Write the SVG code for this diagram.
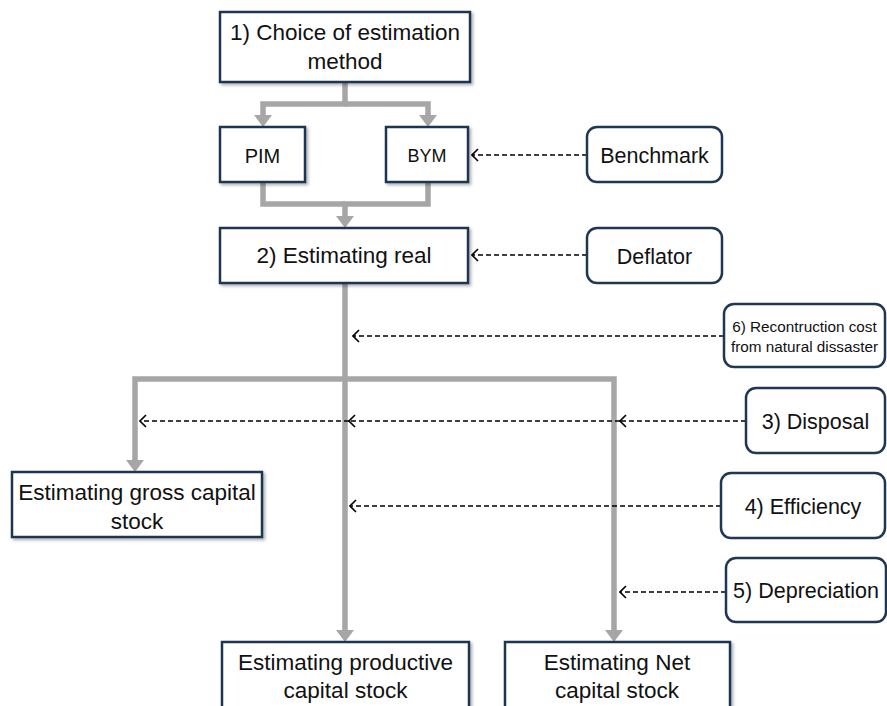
<svg xmlns="http://www.w3.org/2000/svg" width="887" height="706" viewBox="0 0 887 706">
<style>
.box{fill:#fff;stroke:#1f3654;stroke-width:2.5;filter:url(#sh)}
.rbox{fill:#fff;stroke:#1f3654;stroke-width:2.5}
.t{font-family:"Liberation Sans",Arial,sans-serif;font-size:22.5px;fill:#111;text-anchor:middle}
.tr{font-size:21.5px}
.ts{font-size:15.3px}
.g{fill:none;stroke:#a6a6a6;stroke-width:5.5;stroke-linejoin:miter;marker-end:url(#ga)}
.gn{fill:none;stroke:#a6a6a6;stroke-width:5.5;stroke-linejoin:miter}
.d{fill:none;stroke:#000;stroke-width:1.6;stroke-dasharray:5 3;marker-end:url(#da)}
</style>
<defs>
<filter id="sh" x="-10%" y="-10%" width="125%" height="140%">
<feDropShadow dx="2" dy="2" stdDeviation="1.5" flood-color="#000" flood-opacity="0.3"/>
</filter>
<marker id="ga" markerUnits="userSpaceOnUse" viewBox="0 0 12 18" markerWidth="12" markerHeight="18" refX="0" refY="9" orient="auto">
<path d="M0,0 L12,9 L0,18 Z" fill="#a6a6a6"/>
</marker>
<marker id="da" markerUnits="userSpaceOnUse" viewBox="0 0 8 14" markerWidth="8" markerHeight="14" refX="7" refY="7" orient="auto">
<path d="M1,1 L7,7 L1,13" fill="none" stroke="#000" stroke-width="1.6"/>
</marker>
</defs>

<g id="connectors">
<path class="g" d="M345,82 V104 H263 V115"/>
<path class="g" d="M345,104 H428 V115"/>
<path class="gn" d="M263,182 V204 H345"/>
<path class="g" d="M428,182 V204 H345 V216"/>
<path class="g" d="M345,283 V630"/>
<path class="g" d="M345,379 H135 V460"/>
<path class="g" d="M345,379 H614 V630"/>
<path class="d" d="M587,155 H472"/>
<path class="d" d="M587,255 H472"/>
<path class="d" d="M724,336 H353"/>
<path class="d" d="M746,421 H620"/>
<path class="d" d="M620,421 H349"/>
<path class="d" d="M349,421 H140"/>
<path class="d" d="M721,506 H350"/>
<path class="d" d="M726,592 H620"/>
</g>

<g id="choice">
<rect class="box" x="220" y="12" width="250" height="70"/>
<text class="t" x="345" y="40">1) Choice of estimation</text>
<text class="t" x="345" y="69">method</text>
</g>
<g id="pim">
<rect class="box" x="220" y="127" width="85" height="55"/>
<text class="t" x="262.5" y="163" style="font-size:20px">PIM</text>
</g>
<g id="bym">
<rect class="box" x="386" y="127" width="82" height="55"/>
<text class="t" x="427" y="162" style="font-size:18px">BYM</text>
</g>
<g id="real">
<rect class="box" x="220" y="228" width="248" height="55"/>
<text class="t" x="344" y="263">2) Estimating real</text>
</g>
<g id="benchmark">
<rect class="rbox" x="587" y="127" width="135" height="55" rx="10"/>
<text class="t tr" x="654.5" y="163">Benchmark</text>
</g>
<g id="deflator">
<rect class="rbox" x="587" y="228" width="135" height="55" rx="10"/>
<text class="t tr" x="654.5" y="264">Deflator</text>
</g>
<g id="reconstruction">
<rect class="rbox" x="724" y="304" width="161" height="63" rx="10"/>
<text class="t ts" x="804.5" y="332">6) Recontruction cost</text>
<text class="t ts" x="804.5" y="352">from natural dissaster</text>
</g>
<g id="disposal">
<rect class="rbox" x="746" y="388" width="139" height="65" rx="10"/>
<text class="t tr" x="815.5" y="429">3) Disposal</text>
</g>
<g id="efficiency">
<rect class="rbox" x="721" y="473" width="164" height="65" rx="10"/>
<text class="t tr" x="803" y="514">4) Efficiency</text>
</g>
<g id="depreciation">
<rect class="rbox" x="726" y="558" width="160" height="64" rx="10"/>
<text class="t tr" x="806" y="598">5) Depreciation</text>
</g>
<g id="gross">
<rect class="box" x="12" y="472" width="250" height="65"/>
<text class="t" x="137" y="500">Estimating gross capital</text>
<text class="t" x="137" y="529">stock</text>
</g>
<g id="productive">
<rect class="box" x="222" y="642" width="247" height="72"/>
<text class="t" x="345.5" y="670">Estimating productive</text>
<text class="t" x="345.5" y="698">capital stock</text>
</g>
<g id="net">
<rect class="box" x="505" y="642" width="225" height="72"/>
<text class="t" x="617" y="670">Estimating Net</text>
<text class="t" x="617" y="698">capital stock</text>
</g>
</svg>
